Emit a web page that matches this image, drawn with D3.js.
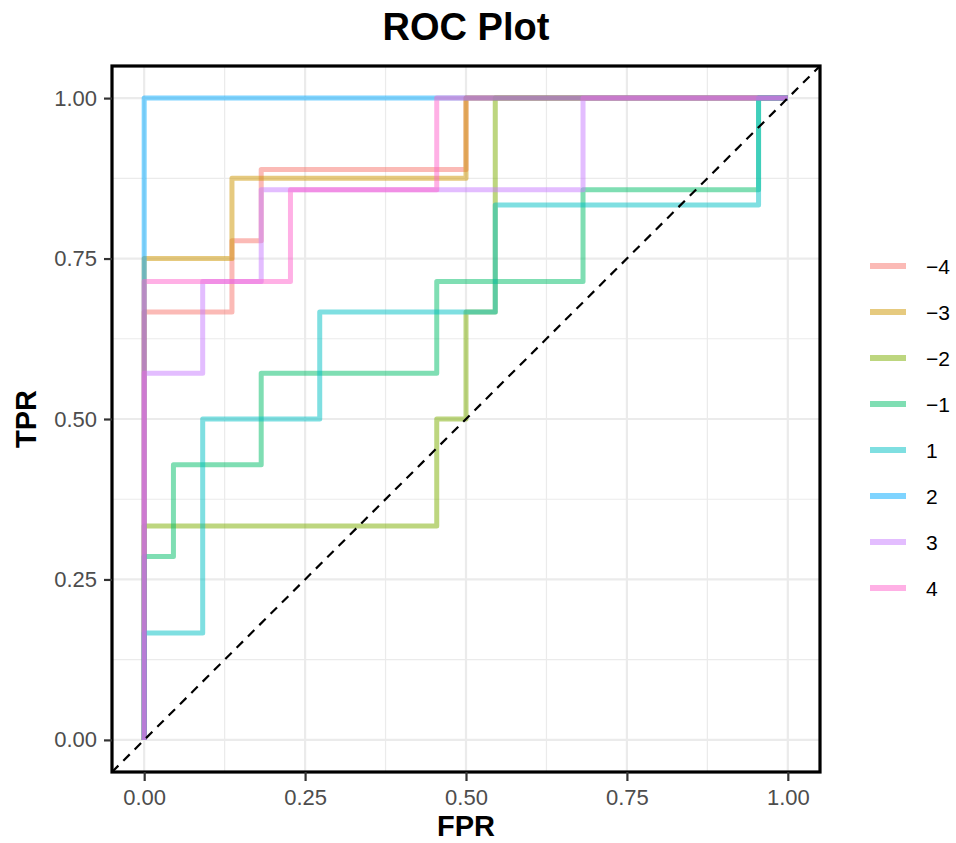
<!DOCTYPE html>
<html>
<head>
<meta charset="utf-8">
<script src="https://cdn.jsdelivr.net/npm/d3@7"></script>
<style>
  body { margin: 0; background: #fff; }
  svg { font-family: "Liberation Sans", Arial, sans-serif; }
</style>
</head>
<body>
<div id="chart"></div>
<script>
// classes and colours (ggplot hue palette)
var classes = ['\u22124', '\u22123', '\u22122', '\u22121', '1', '2', '3', '4'];
var colors = ['#F8766D', '#CD9600', '#7CAE00', '#00BE67', '#00BFC4', '#00A9FF', '#C77CFF', '#FF61CC'];

// ROC corner points per class: [FPR, TPR]
var rocM4 = [[0, 0], [0, 6/9], [3/22, 6/9], [3/22, 7/9], [4/22, 7/9], [4/22, 8/9], [11/22, 8/9], [11/22, 1], [1, 1]];
var rocM3 = [[0, 0], [0, 6/8], [3/22, 6/8], [3/22, 7/8], [11/22, 7/8], [11/22, 1], [1, 1]];
var rocM2 = [[0, 0], [0, 2/6], [10/22, 2/6], [10/22, 3/6], [11/22, 3/6], [11/22, 4/6], [12/22, 4/6], [12/22, 1], [1, 1]];
var rocM1 = [[0, 0], [0, 2/7], [1/22, 2/7], [1/22, 3/7], [4/22, 3/7], [4/22, 4/7], [10/22, 4/7], [10/22, 5/7],
             [15/22, 5/7], [15/22, 6/7], [21/22, 6/7], [21/22, 1], [1, 1]];
var rocP1 = [[0, 0], [0, 1/6], [2/22, 1/6], [2/22, 3/6], [6/22, 3/6], [6/22, 4/6], [12/22, 4/6], [12/22, 5/6],
             [21/22, 5/6], [21/22, 1], [1, 1]];
var rocP2 = [[0, 0], [0, 1], [1, 1]];
var rocP3 = [[0, 0], [0, 4/7], [2/22, 4/7], [2/22, 5/7], [4/22, 5/7], [4/22, 6/7], [15/22, 6/7], [15/22, 1], [1, 1]];
var rocP4 = [[0, 0], [0, 5/7], [5/22, 5/7], [5/22, 6/7], [10/22, 6/7], [10/22, 1], [1, 1]];
var curves = [rocM4, rocM3, rocM2, rocM1, rocP1, rocP2, rocP3, rocP4];

var tickValues = [0, 0.25, 0.5, 0.75, 1];
var minorValues = [0.125, 0.375, 0.625, 0.875];

var width = 956, height = 843;
var panel = {left: 112, right: 820, top: 66, bottom: 772};

var svg = d3.select('#chart').append('svg')
    .attr('width', width)
    .attr('height', height);

// expand 5% like ggplot
var x = d3.scaleLinear().domain([-0.05, 1.05]).range([panel.left, panel.right]);
var y = d3.scaleLinear().domain([-0.05, 1.05]).range([panel.bottom, panel.top]);

var g = svg.append('g');

// grid
g.selectAll('.minorx').data(minorValues).enter().append('line')
    .attr('x1', function (d) { return x(d); }).attr('x2', function (d) { return x(d); })
    .attr('y1', panel.top).attr('y2', panel.bottom)
    .style('stroke', '#EBEBEB').style('stroke-width', 1.2);
g.selectAll('.minory').data(minorValues).enter().append('line')
    .attr('y1', function (d) { return y(d); }).attr('y2', function (d) { return y(d); })
    .attr('x1', panel.left).attr('x2', panel.right)
    .style('stroke', '#EBEBEB').style('stroke-width', 1.2);
g.selectAll('.majorx').data(tickValues).enter().append('line')
    .attr('x1', function (d) { return x(d); }).attr('x2', function (d) { return x(d); })
    .attr('y1', panel.top).attr('y2', panel.bottom)
    .style('stroke', '#EBEBEB').style('stroke-width', 2.2);
g.selectAll('.majory').data(tickValues).enter().append('line')
    .attr('y1', function (d) { return y(d); }).attr('y2', function (d) { return y(d); })
    .attr('x1', panel.left).attr('x2', panel.right)
    .style('stroke', '#EBEBEB').style('stroke-width', 2.2);

// ROC curves
var line = d3.line()
    .x(function (d) { return x(d[0]); })
    .y(function (d) { return y(d[1]); });

g.selectAll('.roc').data(curves).enter().append('path')
    .attr('d', line)
    .style('fill', 'none')
    .style('stroke', function (d, i) { return colors[i]; })
    .style('stroke-opacity', 0.5)
    .style('stroke-width', 5)
    .style('stroke-linejoin', 'round');

// diagonal reference line, clipped to panel
svg.append('clipPath').attr('id', 'clip').append('rect')
    .attr('x', panel.left).attr('y', panel.top)
    .attr('width', panel.right - panel.left).attr('height', panel.bottom - panel.top);
g.append('line')
    .attr('clip-path', 'url(#clip)')
    .attr('x1', x(-0.05)).attr('y1', y(-0.05))
    .attr('x2', x(1.05)).attr('y2', y(1.05))
    .style('stroke', '#000')
    .style('stroke-width', 2.2)
    .style('stroke-dasharray', '9,7');

// panel border
g.append('rect')
    .attr('x', panel.left).attr('y', panel.top)
    .attr('width', panel.right - panel.left).attr('height', panel.bottom - panel.top)
    .style('fill', 'none').style('stroke', '#000').style('stroke-width', 3.2);

// axes
var fmt = d3.format('.2f');
var xAxis = svg.append('g')
    .attr('transform', 'translate(0,' + panel.bottom + ')')
    .call(d3.axisBottom(x).tickValues(tickValues).tickFormat(fmt).tickSize(9).tickPadding(8));
var yAxis = svg.append('g')
    .attr('transform', 'translate(' + panel.left + ',0)')
    .call(d3.axisLeft(y).tickValues(tickValues).tickFormat(fmt).tickSize(8).tickPadding(7));
[xAxis, yAxis].forEach(function (a) {
  a.select('.domain').remove();
  a.selectAll('.tick line').style('stroke', '#333').style('stroke-width', 2.2);
  a.selectAll('.tick text').style('fill', '#4D4D4D').style('font-size', '22px')
      .style('font-family', '"Liberation Sans", Arial, sans-serif');
});

// titles
svg.append('text')
    .attr('x', (panel.left + panel.right) / 2).attr('y', 40)
    .attr('text-anchor', 'middle')
    .style('font-size', '38px').style('font-weight', 'bold')
    .text('ROC Plot');
svg.append('text')
    .attr('x', (panel.left + panel.right) / 2).attr('y', 836)
    .attr('text-anchor', 'middle')
    .style('font-size', '29px').style('font-weight', 'bold')
    .text('FPR');
svg.append('text')
    .attr('transform', 'translate(36,' + ((panel.top + panel.bottom) / 2) + ') rotate(-90)')
    .attr('text-anchor', 'middle')
    .style('font-size', '29px').style('font-weight', 'bold')
    .text('TPR');

// legend
var legend = svg.append('g').attr('transform', 'translate(870,266)');
var item = legend.selectAll('.item').data(classes).enter().append('g')
    .attr('transform', function (d, i) { return 'translate(0,' + (i * 46) + ')'; });
item.append('line')
    .attr('x1', 0).attr('x2', 36).attr('y1', 0).attr('y2', 0)
    .style('stroke', function (d, i) { return colors[i]; })
    .style('stroke-opacity', 0.5)
    .style('stroke-width', 6);
item.append('text')
    .attr('x', 56).attr('y', 0).attr('dy', '0.36em')
    .style('font-size', '21px')
    .text(function (d) { return d; });
</script>
</body>
</html>
